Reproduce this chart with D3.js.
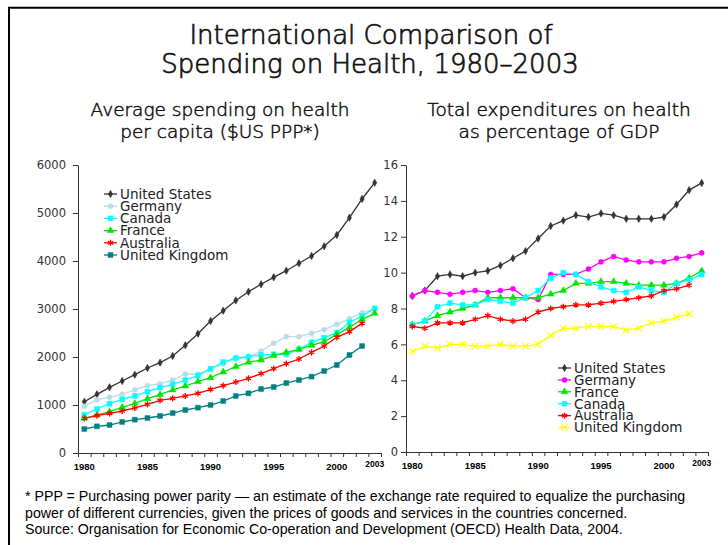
<!DOCTYPE html>
<html><head><meta charset="utf-8">
<script src="https://cdn.jsdelivr.net/npm/d3@7"></script>
<style>
html,body{margin:0;padding:0;background:#fff;}
svg{display:block;}
</style></head>
<body>
<svg id="chart" width="728" height="545"></svg>
<script>
// ---------- DATA ----------
const years = d3.range(1980, 2004).map(String);
const xLabelYears = ["1980","1985","1990","1995","2000","2003"];
const leftTicks = [0,1000,2000,3000,4000,5000,6000];
const rightTicks = [0,2,4,6,8,10,12,14,16];

// Average spending on health per capita ($US PPP)
const perCapitaUS = [1069,1222,1368,1500,1632,1771,1882,2021,2243,2486,2750,2965,3178,3360,3515,3660,3798,3952,4104,4306,4542,4902,5292,5631];
const perCapitaGermany = [972,1111,1160,1222,1313,1403,1444,1521,1646,1639,1764,1851,1960,1990,2125,2285,2424,2424,2493,2569,2681,2799,2924,2993];
const perCapitaCanada = [799,917,1028,1118,1188,1278,1361,1431,1521,1611,1750,1896,1979,2007,2042,2056,2056,2160,2306,2403,2507,2722,2854,3014];
const perCapitaFrance = [722,792,861,951,1035,1132,1215,1313,1396,1486,1569,1688,1799,1889,1938,2028,2097,2160,2243,2319,2472,2618,2785,2910];
const perCapitaAustralia = [722,778,826,875,938,1014,1097,1139,1188,1243,1326,1403,1479,1556,1653,1757,1861,1958,2097,2229,2410,2528,2701];
const perCapitaUK = [500,556,583,646,694,729,771,833,896,944,1000,1083,1188,1243,1333,1375,1458,1521,1590,1708,1833,2042,2229];

// Total expenditures on health as percentage of GDP
const gdpUS = [8.7,9.0,9.8,9.9,9.8,10.0,10.1,10.4,10.8,11.2,11.9,12.6,12.9,13.2,13.1,13.3,13.2,13.0,13.0,13.0,13.1,13.8,14.6,15.0];
const gdpGermany = [8.7,9.0,8.9,8.8,8.9,9.0,8.9,9.0,9.1,8.6,8.5,9.9,9.9,9.9,10.2,10.6,10.9,10.7,10.6,10.6,10.6,10.8,10.9,11.1];
const gdpFrance = [7.1,7.3,7.6,7.8,8.0,8.2,8.6,8.6,8.6,8.6,8.6,8.8,9.0,9.4,9.4,9.5,9.5,9.4,9.3,9.3,9.3,9.4,9.7,10.1];
const gdpCanada = [7.1,7.3,8.1,8.3,8.2,8.2,8.5,8.4,8.3,8.6,9.0,9.7,10.0,9.9,9.5,9.2,9.0,8.9,9.2,9.0,8.9,9.4,9.6,9.9];
const gdpAustralia = [7.0,6.9,7.2,7.2,7.2,7.4,7.6,7.4,7.3,7.4,7.8,8.0,8.1,8.2,8.2,8.3,8.4,8.5,8.6,8.7,9.0,9.1,9.3];
const gdpUK = [5.6,5.9,5.8,6.0,6.0,5.9,5.9,6.0,5.9,5.9,6.0,6.5,6.9,6.9,7.0,7.0,7.0,6.8,6.9,7.2,7.3,7.5,7.7];

// ---------- SERIES (names + style) ----------
const leftSeries = [
  {name:"United States", values:perCapitaUS, color:"#333333", sym:d3.symbolDiamond, size:16, fill:true},
  {name:"Germany", values:perCapitaGermany, color:"#b7dde6", sym:d3.symbolCircle, size:20, fill:true},
  {name:"Canada", values:perCapitaCanada, color:"#00ffff", sym:d3.symbolSquare, size:24, fill:true},
  {name:"France", values:perCapitaFrance, color:"#00e600", sym:d3.symbolTriangle, size:20, fill:true},
  {name:"Australia", values:perCapitaAustralia, color:"#ff0000", sym:d3.symbolAsterisk, size:26, fill:false},
  {name:"United Kingdom", values:perCapitaUK, color:"#008080", sym:d3.symbolSquare, size:24, fill:true}
];
const rightSeries = [
  {name:"United States", values:gdpUS, color:"#333333", sym:d3.symbolDiamond, size:16, fill:true},
  {name:"Germany", values:gdpGermany, color:"#ff00ff", sym:d3.symbolCircle, size:20, fill:true},
  {name:"France", values:gdpFrance, color:"#00e600", sym:d3.symbolTriangle, size:20, fill:true},
  {name:"Canada", values:gdpCanada, color:"#00ffff", sym:d3.symbolSquare, size:24, fill:true},
  {name:"Australia", values:gdpAustralia, color:"#ff0000", sym:d3.symbolAsterisk, size:26, fill:false},
  {name:"United Kingdom", values:gdpUK, color:"#ffff00", sym:d3.symbolTimes, size:26, fill:false}
];

const svg = d3.select("#chart");
const FONT = "'DejaVu Sans', sans-serif";
const AXC = "#333";

// frame
svg.append("path").attr("d","M9,545V7.8H728").attr("fill","none").attr("stroke","#000").attr("stroke-width",2);

// titles
const title = svg.append("text").attr("text-anchor","middle").attr("font-family",FONT).attr("font-weight",300)
  .attr("font-size",26).attr("fill","#111").attr("stroke","#111").attr("stroke-width",0.7);
title.append("tspan").attr("x",371).attr("y",44).text("International Comparison of");
title.append("tspan").attr("x",370).attr("y",73).text("Spending on Health, 1980–2003");

function subtitle(x, lines){
  const t = svg.append("text").attr("text-anchor","middle").attr("font-family",FONT).attr("font-weight",300)
    .attr("font-size",18.5).attr("fill","#111").attr("stroke","#111").attr("stroke-width",0.5);
  lines.forEach((l,i)=>t.append("tspan").attr("x",x).attr("y",116+i*22).text(l));
}
subtitle(220, ["Average spending on health","per capita ($US PPP*)"]);
subtitle(559, ["Total expenditures on health","as percentage of GDP"]);

function drawPanel(opts){
  const {x0,x1,yTop,yBot,domainMax,ticks,series,legend,tickPad} = opts;
  const g = svg.append("g");
  const x = d3.scaleBand().domain(years).range([x0,x1]).padding(0);
  const xb = d3.scaleLinear().domain([0,years.length]).range([x0,x1]);
  const y = d3.scaleLinear().domain([0,domainMax]).range([yBot,yTop]);
  const cx = d => x(d) + x.bandwidth()/2;

  // y axis
  const ya = g.append("g").attr("transform",`translate(${x0},0)`)
    .call(d3.axisLeft(y).tickValues(ticks).tickFormat(d3.format("d")).tickSize(5).tickPadding(tickPad).tickSizeOuter(0));
  ya.select(".domain").attr("stroke",AXC);
  ya.selectAll(".tick line").attr("stroke",AXC);
  ya.selectAll("text").attr("font-family",FONT).attr("font-size",11.5).attr("fill","#333");

  // x axis ticks at band boundaries
  const xa = g.append("g").attr("transform",`translate(0,${yBot})`)
    .call(d3.axisBottom(xb).tickValues(d3.range(0,years.length+1)).tickSize(4).tickFormat("").tickSizeOuter(0));
  xa.select(".domain").attr("stroke",AXC);
  xa.selectAll(".tick line").attr("stroke",AXC);
  // x labels
  const xl = g.append("g").attr("transform",`translate(0,${yBot})`)
    .call(d3.axisBottom(x).tickValues(xLabelYears).tickSize(0).tickPadding(10));
  xl.select(".domain").remove();
  xl.selectAll("text").attr("font-family","'Liberation Sans', Arial, sans-serif").attr("font-weight","bold")
    .attr("font-size",d=>d==="2003"?8.5:9.5).attr("fill","#000")
    .attr("dy",d=>d==="2003"?"0.45em":"0.71em");

  const line = d3.line().x((d,i)=>cx(years[i])).y(d=>y(d));
  series.forEach(s=>{
    const sg = g.append("g");
    sg.append("path").datum(s.values).attr("d",line).attr("fill","none").attr("stroke",s.color).attr("stroke-width",1.3);
    sg.selectAll("path.m").data(s.values).join("path").attr("class","m")
      .attr("transform",(d,i)=>`translate(${cx(years[i])},${y(d)})`)
      .attr("d",d3.symbol(s.sym,s.size))
      .attr("fill",s.fill?s.color:"none").attr("stroke",s.color).attr("stroke-width",s.fill?0.5:1.3);
  });

  // legend
  const lg = g.append("g");
  series.forEach((s,i)=>{
    const ly = legend.y + i*legend.dy;
    lg.append("line").attr("x1",legend.x).attr("x2",legend.x+13).attr("y1",ly).attr("y2",ly).attr("stroke",s.color).attr("stroke-width",1.3);
    lg.append("path").attr("transform",`translate(${legend.x+6.5},${ly})`).attr("d",d3.symbol(s.sym,s.size))
      .attr("fill",s.fill?s.color:"none").attr("stroke",s.color).attr("stroke-width",s.fill?0.5:1.3);
    lg.append("text").attr("x",legend.x+16).attr("y",ly).attr("dy","0.36em").attr("font-family",FONT).attr("font-size",13.5)
      .attr("fill","#222").text(s.name);
  });
}

drawPanel({x0:78,x1:381,yTop:165,yBot:453,domainMax:6000,ticks:leftTicks,series:leftSeries,
  legend:{x:104,y:194,dy:12.2},tickPad:7});
drawPanel({x0:406,x1:708,yTop:165,yBot:452,domainMax:16,ticks:rightTicks,series:rightSeries,
  legend:{x:558,y:368,dy:11.9},tickPad:3});

// footnote
const fn = svg.append("text").attr("font-family","'Liberation Sans', Arial, sans-serif").attr("font-size",14.2).attr("fill","#000");
["* PPP = Purchasing power parity — an estimate of the exchange rate required to equalize the purchasing",
 "power of different currencies, given the prices of goods and services in the countries concerned.",
 "Source: Organisation for Economic Co-operation and Development (OECD) Health Data, 2004."]
 .forEach((l,i)=>fn.append("tspan").attr("x",25).attr("y",501+i*16.5).text(l));
</script>
</body></html>
